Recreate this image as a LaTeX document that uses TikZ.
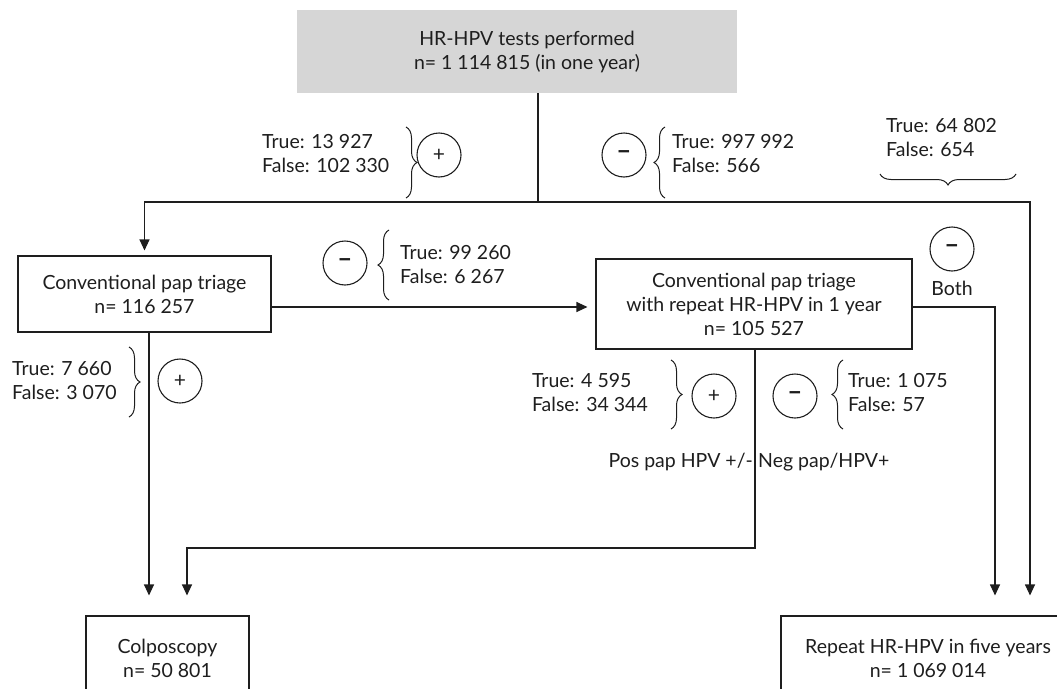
\documentclass[tikz,border=0pt]{standalone}
\usepackage{fontspec}
\setmainfont{Lato}
\usetikzlibrary{arrows.meta,decorations.pathreplacing}
\definecolor{topgray}{RGB}{214,214,214}
\definecolor{ink}{RGB}{30,30,30}
\tikzset{
  conn/.style={draw=ink, line width=1.1pt},
  arr/.style={conn, -{Triangle[length=11pt,width=10pt]}},
  boxnode/.style={draw=ink, line width=1.1pt, fill=white, align=center, inner sep=0pt},
  topbox/.style={fill=topgray, align=center, inner sep=0pt},
  lbl/.style={align=left, inner sep=0pt},
  sign/.style={draw=ink, line width=1.1pt, circle, minimum size=44pt, inner sep=0pt},
  brc/.style={draw=ink, line width=1pt, decorate, decoration={brace, amplitude=11pt, aspect=0.5}},
  plus/.style={font=\fontsize{21}{21}\selectfont},
  minus/.style={font=\fontsize{26}{26}\selectfont\bfseries},
}
\begin{document}
\begin{tikzpicture}[x=1pt,y=-1pt, font=\fontsize{19.5}{24}\selectfont, text=ink]
\useasboundingbox (0,0) rectangle (1057,688);
\clip (0,0) rectangle (1057,688);

% boxes
\node[topbox, minimum width=440pt, minimum height=83pt] (top) at (517,51.5)
  {\hspace*{20pt}HR-HPV tests performed\\\hspace*{20pt}n= 1 114 815 (in one year)};
\node[boxnode, minimum width=253pt, minimum height=76pt] (box1) at (144.5,294)
  {Conventional pap triage\\n= 116 257};
\node[boxnode, minimum width=316pt, minimum height=90pt] (box2) at (754,304)
  {Conventional pap triage\\with repeat HR-HPV in 1 year\\n= 105 527};
\node[boxnode, minimum width=163pt, minimum height=84pt] (colp) at (167.5,658)
  {Colposcopy\\n= 50 801};
\node[boxnode, minimum width=294pt, minimum height=84pt] (rep) at (928,658)
  {Repeat HR-HPV in five years\\n= 1 069 014};

% junction coordinates
\coordinate (j0) at (538,202);
\coordinate (r1) at (1030,202);
\coordinate (m1) at (0,307);
\coordinate (r2) at (995,307);
\coordinate (l1) at (149,0);
\coordinate (b2) at (755,548);
\coordinate (l2) at (187,548);

% connectors
\draw[conn] (top.south -| j0) -- (j0);
\draw[arr, shorten >=5pt] (j0) -| (box1.north);
\draw[arr, shorten >=20pt] (j0) -| (rep.north -| r1);
\draw[arr, shorten >=8pt] (box1.east |- m1) -- (box2.west |- m1);
\draw[arr, shorten >=20pt] (box2.east |- r2) -| (rep.north -| r2);
\draw[arr, shorten >=20pt] (box1.south -| l1) -- (colp.north -| l1);
\draw[arr, shorten >=20pt] (box2.south -| b2) -- (b2) -- (l2) -- (colp.north -| l2);

% sign circles
\node[sign, plus] (c1) at (439,155) {+};
\node[sign, minus] (c2) at (624,155) {–};
\node[sign, minus] (c3) at (952,249) {–};
\node[inner sep=0pt] (both) at (952,288) {Both};
\node[sign, minus] (c4) at (345,263) {–};
\node[sign, plus] (c5) at (180,381) {+};
\node[sign, plus] (c6) at (714,396) {+};
\node[sign, minus] (c7) at (795,396) {–};

% count labels
\node[lbl, anchor=west] (t1) at (262,154) {True: 13 927\\False: 102 330};
\node[lbl, anchor=west] (t2) at (672,154) {True: 997 992\\False: 566};
\node[lbl, anchor=west] (t3) at (886,138) {True: 64 802\\False: 654};
\node[lbl, anchor=west] (t4) at (400,264.5) {True: 99 260\\False: 6 267};
\node[lbl, anchor=west] (t5) at (12,380.5) {True: 7 660\\False: 3 070};
\node[lbl, anchor=east] (t6) at (648,393) {True: 4 595\\False: 34 344};
\node[lbl, anchor=west] (t7) at (848,393) {True: 1 075\\False: 57};
\node[lbl, anchor=east] (pos) at (753,462) {Pos pap HPV +/-};
\node[lbl, anchor=west] (neg) at (758,462) {Neg pap/HPV+};

% braces
\draw[brc] (406,127) -- (406,198);
\draw[brc] (665,198) -- (665,127);
\draw[brc] (1016,174) -- (880,174);
\draw[brc] (389,300) -- (389,230);
\draw[brc] (129,347) -- (129,417);
\draw[brc] (671,360) -- (671,429);
\draw[brc] (843,429) -- (843,360);
\end{tikzpicture}
\end{document}
